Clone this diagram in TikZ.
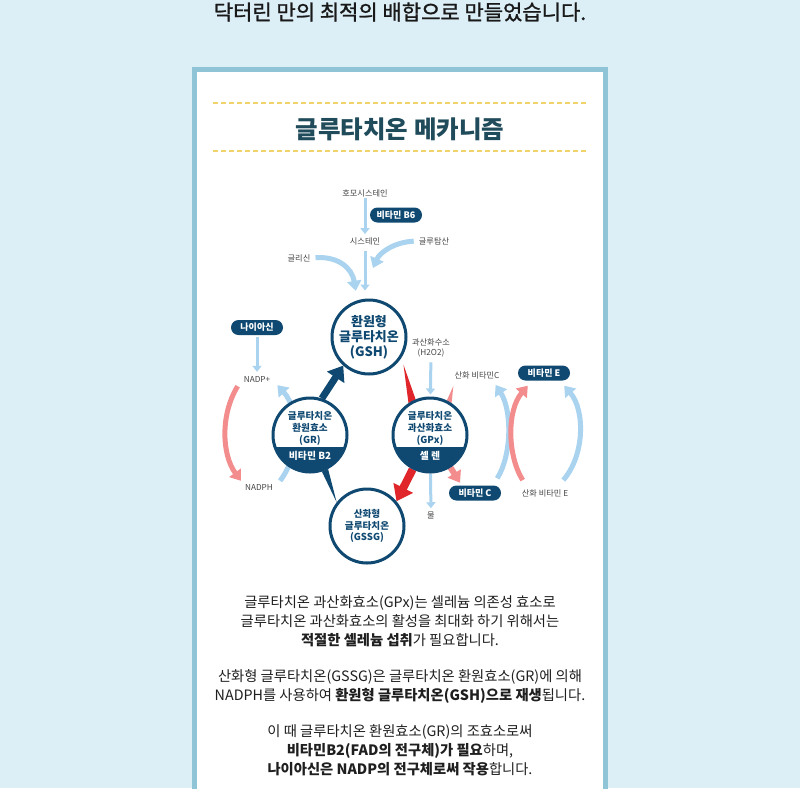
\documentclass[tikz,border=0pt]{standalone}
\usepackage{fontspec}
\usetikzlibrary{arrows.meta}
\newfontfamily\kr{Noto Sans CJK KR}
\newfontfamily\krmed{Noto Sans CJK KR}[FakeBold=1.2]

\definecolor{bgblue}{HTML}{DCEEF6}
\definecolor{frameblue}{HTML}{8FC4D7}
\definecolor{navy}{HTML}{0F4971}
\definecolor{sky}{HTML}{A9D3EF}
\definecolor{redarr}{HTML}{E0262B}
\definecolor{pinkarr}{HTML}{F28C8D}
\definecolor{teal}{HTML}{1F4B5B}
\definecolor{dashyel}{HTML}{F0D36B}
\definecolor{txtgray}{HTML}{454545}

\pgfdeclarelayer{back}
\pgfsetlayers{back,main}

\tikzset{
  lbl/.style={font=\kr\fontsize{8.2}{10}\selectfont, text=txtgray, inner sep=1pt, align=center},
  pill/.style={fill=navy, text=white, rounded corners=7.5pt, minimum height=15pt, minimum width=52pt,
    inner sep=0pt, font=\kr\bfseries\fontsize{9}{10}\selectfont},
  ring/.style={circle, draw=navy, line width=3pt, fill=white, minimum size=74pt, inner sep=0pt,
    text=navy, align=center},
  banded/.style={ring, path picture={\fill[navy] (path picture bounding box.south west)
    rectangle ([yshift=-11.5pt]path picture bounding box.east);}},
  bigtxt/.style={font=\kr\bfseries\fontsize{13}{15}\selectfont},
  ringtxt/.style={font=\kr\bfseries\fontsize{9.6}{11.7}\selectfont, text=navy, align=center, inner sep=0pt},
  bandtxt/.style={font=\kr\bfseries\fontsize{9.8}{11}\selectfont, text=white, inner sep=0pt},
  thinsky/.style={draw=sky, line width=3pt, -{Triangle[width=9pt,length=6pt]}},
  skycurve/.style={draw=sky, line width=5pt, -{Triangle[width=14pt,length=10pt]}},
  pinkcurve/.style={draw=pinkarr, line width=5pt, -{Triangle[width=14pt,length=10pt]}},
  body/.style={font=\kr\fontsize{14.3}{19}\selectfont, text=black!88, align=center, inner sep=0pt},
}

\begin{document}
\begin{tikzpicture}[x=1pt, y=-1pt]
  \useasboundingbox (0,0) rectangle (800,788);

  % headings
  \node[font=\krmed\fontsize{21}{24}\selectfont, text=black!90] (toptitle) at (400,12) {닥터린 만의 최적의 배합으로 만들었습니다.};
  \node[font=\kr\bfseries\fontsize{24.5}{28}\selectfont, text=teal] (title) at (400,129) {글루타치온 메카니즘};

  % main circles
  \node[ring, bigtxt] (gsh) at (369,337) {환원형\\글루타치온\\(GSH)};
  \node[ring, ringtxt] (gssg) at (367,526) {산화형\\글루타치온\\(GSSG)};
  \node[banded] (gr) at (310,435) {};
  \node[ringtxt] (grtxt) at (310,428.5) {글루타치온\\환원효소\\(GR)};
  \node[bandtxt] (grband) at (310,455.5) {비타민 B2};
  \node[banded] (gpx) at (430,435) {};
  \node[ringtxt] (gpxtxt) at (430,428.5) {글루타치온\\과산화효소\\(GPx)};
  \node[bandtxt] (gpxband) at (430,455.5) {셀 렌};

  % labels and pills
  \node[lbl] (homo) at (365,193) {호모시스테인};
  \node[pill] (b6) at (396,215) {비타민 B6};
  \node[lbl] (cys) at (365,241) {시스테인};
  \node[lbl] (gly) at (299,258) {글리신};
  \node[lbl] (glu) at (434,241) {글루탐산};
  \coordinate (gluend) at (373,268);
  \node[pill] (niacin) at (257,327.5) {나이아신};
  \node[lbl] (nadpp) at (257,379) {NADP+};
  \node[lbl] (nadph) at (259,487) {NADPH};
  \node[lbl] (h2o2) at (431,348) {과산화수소\\(H2O2)};
  \node[lbl] (water) at (431,515) {물};
  \node[lbl] (oxc) at (477,375) {산화 비타민C};
  \node[pill] (vitc) at (475,493) {비타민 C};
  \node[pill] (vite) at (544,373) {비타민 E};
  \node[lbl] (oxe) at (545,493) {산화 비타민 E};

  % text below
  \node[body] (para1) at (400,621.5) {글루타치온 과산화효소(GPx)는 셀레늄 의존성 효소로\\글루타치온 과산화효소의 활성을 최대화 하기 위해서는\\\textbf{적절한 셀레늄 섭취}가 필요합니다.};
  \node[body] (para2) at (400,686.5) {산화형 글루타치온(GSSG)은 글루타치온 환원효소(GR)에 의해\\NADPH를 사용하여 \textbf{환원형 글루타치온(GSH)으로 재생}됩니다.};
  \node[body] (para3) at (400,750.5) {이 때 글루타치온 환원효소(GR)의 조효소로써\\\textbf{비타민B2(FAD의 전구체)가 필요}하며,\\\textbf{나이아신은 NADP의 전구체로써 작용}합니다.};

  \begin{pgfonlayer}{back}
    \fill[bgblue] (0,0) rectangle (800,788);
    \draw[frameblue, line width=5pt, fill=white] (194.5,69.5) rectangle (605.5,800);
    \draw[dashyel, line width=1.3pt, dash pattern=on 5pt off 3pt] (213,103) -- (587,103);
    \draw[dashyel, line width=1.3pt, dash pattern=on 5pt off 3pt] (213,151) -- (587,151);

    % synthesis
    \draw[thinsky, shorten >=2pt] (homo) -- (cys);
    \draw[thinsky, shorten <=5pt, shorten >=8pt] (cys) -- (cys |- gsh.north);
    \draw[skycurve, shorten <=4pt] (gly.east) .. controls (338,256) and (352,268) .. ([yshift=10pt]gsh.110);
    \draw[skycurve, shorten <=4pt] (glu.west) .. controls (395,242) and (380,252) .. (gluend);

    % cycle
    \draw[navy, line width=7pt, -{Triangle[width=20pt,length=14pt]}] (gr.72) -- (gsh.228);
    \fill[navy] (gr.-62) -- (gr.-72) -- (gssg.142) -- cycle;
    \fill[redarr] ([xshift=5pt,yshift=-3pt]gsh.-40) -- (gpx.112) -- (gpx.124) -- cycle;
    \draw[redarr, line width=8pt, -{Triangle[width=21pt,length=15pt]}] (gpx) -- (gssg.40);
    \draw[thinsky, shorten <=4pt, shorten >=2pt] (h2o2) -- (gpx);
    \draw[thinsky, shorten >=2pt] (gpx) -- (water);

    % vitamin C and E
    \fill[pinkarr] ([yshift=-6pt]oxc.south west) -- (gpx.56) -- (gpx.64) -- cycle;
    \draw[pinkarr, line width=6pt, -{Triangle[width=15pt,length=11pt]}, shorten >=3pt] (gpx) -- (vitc.150);
    \draw[skycurve] ([xshift=-4pt,yshift=7pt]vitc.north east) .. controls (512,455) and (512,410) .. ([xshift=-5pt,yshift=-5pt]oxc.south east);
    \draw[pinkcurve] ([xshift=2pt,yshift=8pt]oxe.north west) .. controls (507,455) and (507,410) .. ([xshift=10pt,yshift=-5pt]vite.south west);
    \draw[skycurve] ([xshift=-6pt,yshift=8pt]oxe.north east) .. controls (585,455) and (585,410) .. ([xshift=-6pt,yshift=-5pt]vite.south east);

    % niacin and NADP
    \draw[thinsky, shorten <=2pt, shorten >=3pt] (niacin) -- (nadpp);
    \draw[pinkcurve] ([xshift=-5pt,yshift=-3pt]nadpp.south west) .. controls (220,415) and (222,455) .. ([xshift=-3pt,yshift=2pt]nadph.north west);
    \draw[skycurve] ([xshift=6pt,yshift=2pt]nadph.north east) .. controls (300,455) and (300,410) .. ([xshift=6pt,yshift=-2pt]nadpp.south east);
  \end{pgfonlayer}
\end{tikzpicture}
\end{document}
